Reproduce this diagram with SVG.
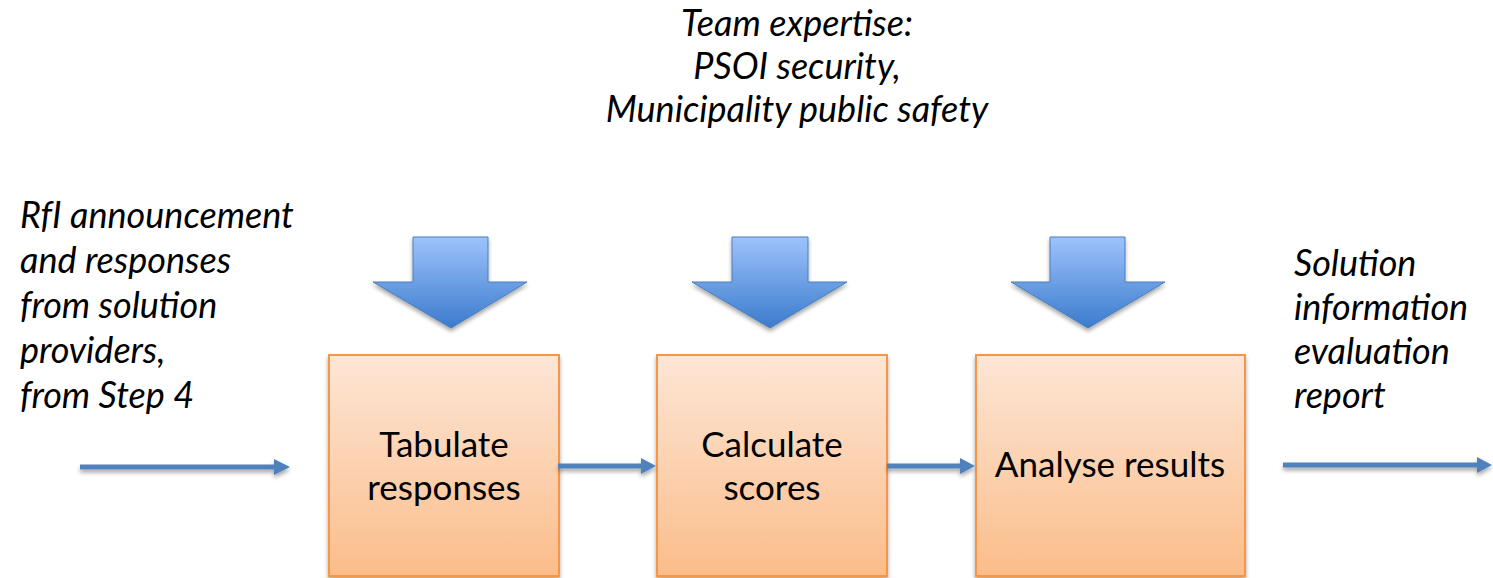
<svg xmlns="http://www.w3.org/2000/svg" width="1493" height="578" viewBox="0 0 1493 578">
<defs>
<linearGradient id="boxGrad" x1="0" y1="0" x2="0" y2="1">
<stop offset="0" stop-color="#fde6d6"/>
<stop offset="1" stop-color="#fbbd8a"/>
</linearGradient>
<linearGradient id="arrGrad" x1="0" y1="0" x2="0" y2="1">
<stop offset="0" stop-color="#9dc3fc"/>
<stop offset="1" stop-color="#3b7bcd"/>
</linearGradient>
<filter id="shadow" filterUnits="userSpaceOnUse" x="0" y="0" width="1493" height="578">
<feGaussianBlur in="SourceAlpha" stdDeviation="2"/>
<feOffset dx="0" dy="3" result="b"/>
<feComponentTransfer><feFuncA type="linear" slope="0.35"/></feComponentTransfer>
<feMerge><feMergeNode/><feMergeNode in="SourceGraphic"/></feMerge>
</filter>
</defs>
<style>
.box{fill:url(#boxGrad);stroke:#f79646;stroke-width:2}
.blk{fill:url(#arrGrad);stroke:#4a7ebb;stroke-width:1}
.lbl{font-family:Lato,"Open Sans",sans-serif;font-size:35px;fill:#000;text-anchor:middle}
.it{font-family:Lato,"Open Sans",sans-serif;font-size:36px;font-style:italic;fill:#000}
.conn{stroke:#4f81bd;stroke-width:5;fill:none}
.hd{fill:#4f81bd}
</style>

<g id="top-label">
<text class="it" x="797" y="36" text-anchor="middle">Team expertise:</text>
<text class="it" x="797" y="79" text-anchor="middle">PSOI security,</text>
<text class="it" x="797" y="122" text-anchor="middle">Municipality public safety</text>
</g>

<g id="input-label">
<text class="it" x="20" y="228">RfI announcement</text>
<text class="it" x="20" y="273">and responses</text>
<text class="it" x="20" y="318">from solution</text>
<text class="it" x="20" y="363">providers,</text>
<text class="it" x="20" y="408">from Step 4</text>
</g>

<g id="output-label">
<text class="it" x="1294" y="276">Solution</text>
<text class="it" x="1294" y="320">information</text>
<text class="it" x="1294" y="364">evaluation</text>
<text class="it" x="1294" y="408">report</text>
</g>

<g id="expertise-arrow-1">
<path class="blk" filter="url(#shadow)" d="M413,237 L488,237 L488,282 L527,282 L451,328 L373,282 L413,282 Z"/>
</g>
<g id="expertise-arrow-2">
<path class="blk" filter="url(#shadow)" d="M732,237 L808,237 L808,282 L847,282 L770,328 L692,282 L732,282 Z"/>
</g>
<g id="expertise-arrow-3">
<path class="blk" filter="url(#shadow)" d="M1050,237 L1125,237 L1125,282 L1165,282 L1088,328 L1011,282 L1050,282 Z"/>
</g>

<g id="tabulate">
<rect class="box" filter="url(#shadow)" x="329" y="355" width="230" height="221"/>
<text class="lbl" x="444" y="457">Tabulate</text>
<text class="lbl" x="444" y="500">responses</text>
</g>
<g id="calculate">
<rect class="box" filter="url(#shadow)" x="657" y="355" width="230" height="221"/>
<text class="lbl" x="772" y="457">Calculate</text>
<text class="lbl" x="772" y="500">scores</text>
</g>
<g id="analyse">
<rect class="box" filter="url(#shadow)" x="976" y="355" width="269" height="221"/>
<text class="lbl" x="1110" y="477">Analyse results</text>
</g>

<g id="connectors" filter="url(#shadow)">
<line class="conn" x1="80" y1="467" x2="276" y2="467"/>
<polygon class="hd" points="274,459 290,467 274,475"/>
<line class="conn" x1="558" y1="466" x2="643" y2="466"/>
<polygon class="hd" points="641,458 656,466 641,474"/>
<line class="conn" x1="887" y1="466" x2="962" y2="466"/>
<polygon class="hd" points="960,458 975,466 960,474"/>
<line class="conn" x1="1283" y1="465" x2="1479" y2="465"/>
<polygon class="hd" points="1477,457 1492,465 1477,473"/>
</g>
</svg>
